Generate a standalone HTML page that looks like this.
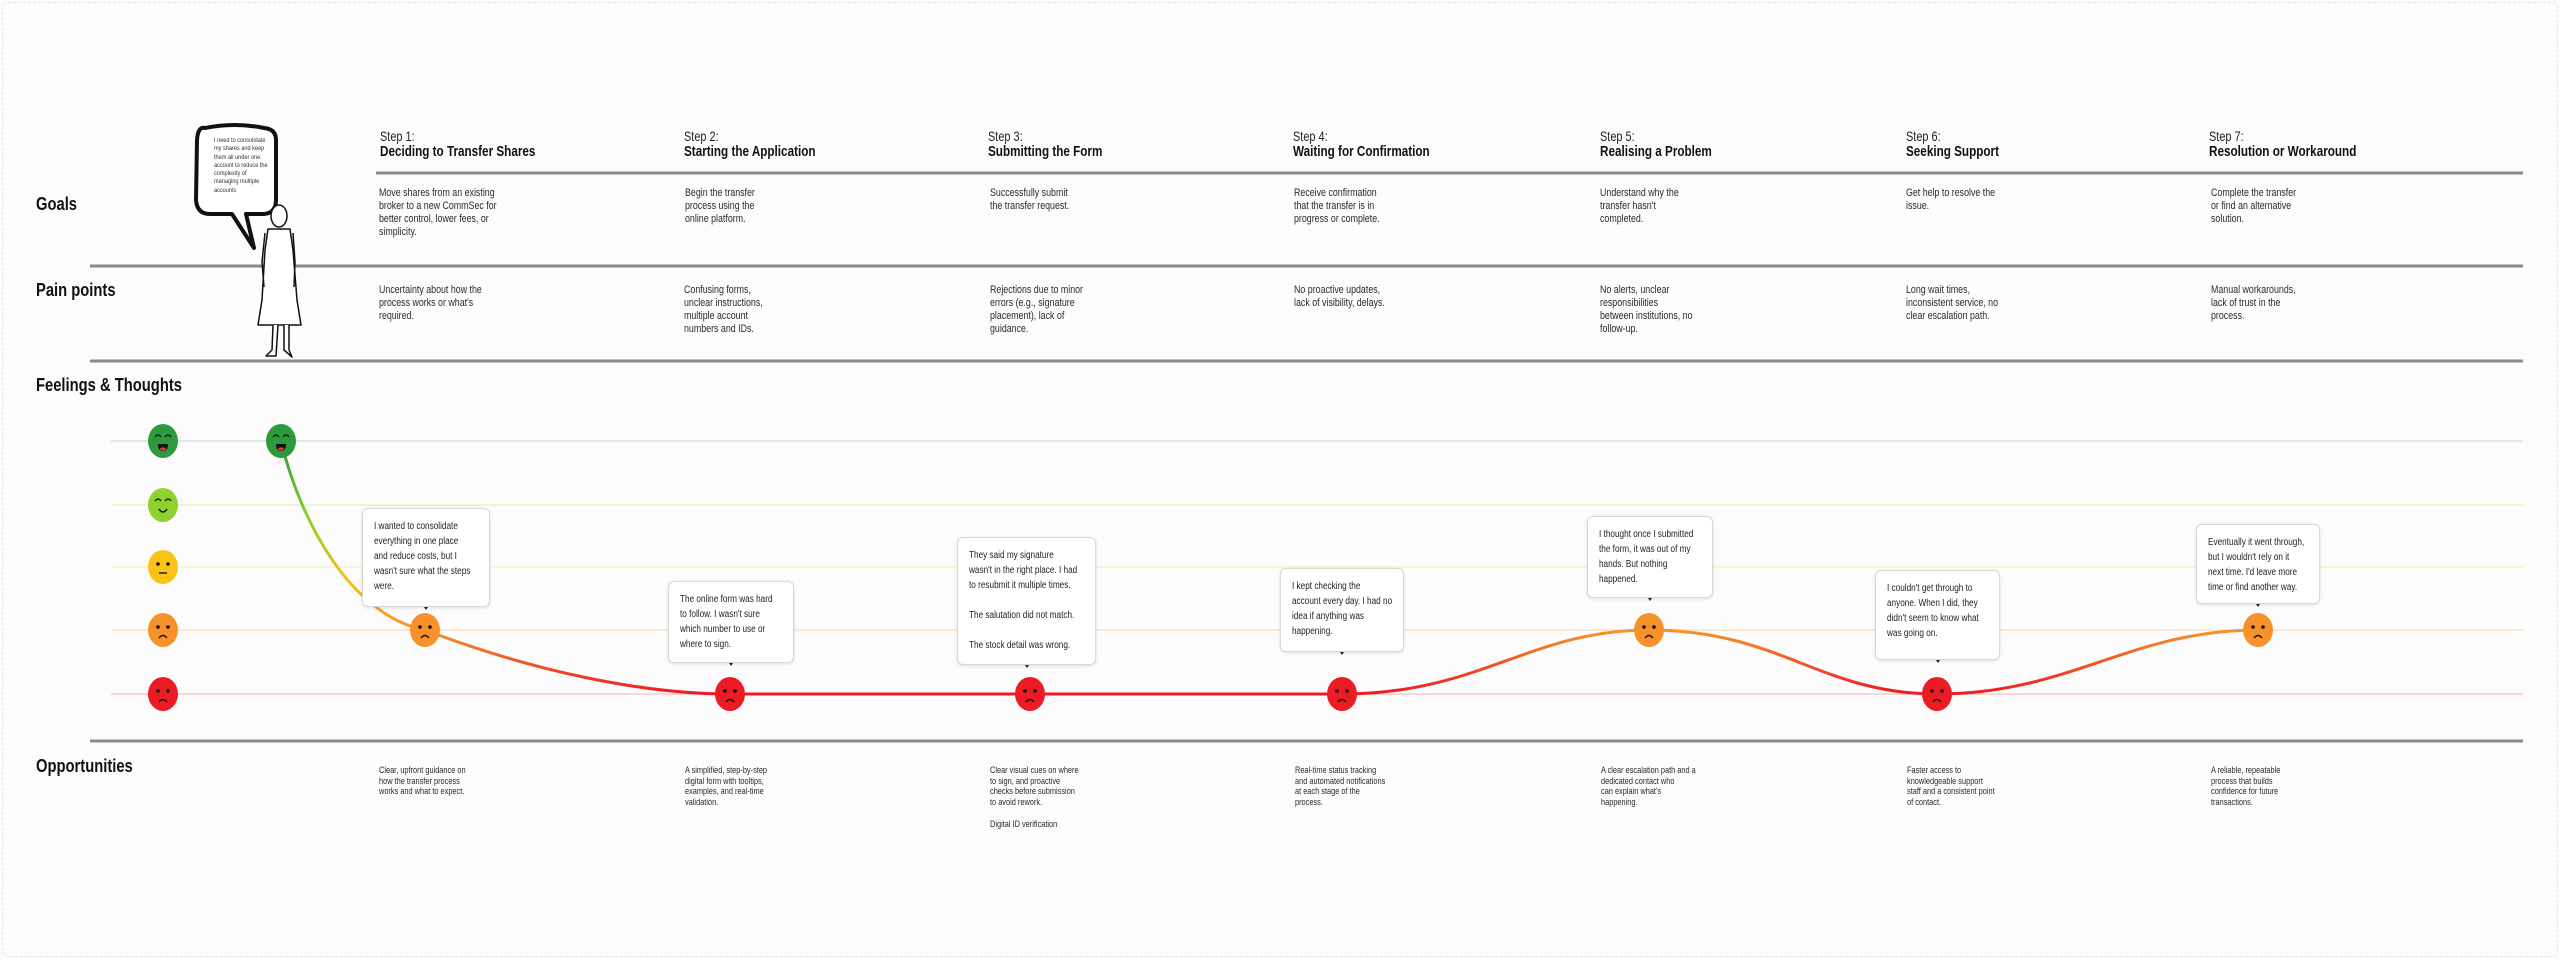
<!DOCTYPE html>
<html><head><meta charset="utf-8">
<style>
html,body{margin:0;padding:0;background:#fcfcfc;}
body{width:2560px;height:959px;position:relative;overflow:hidden;font-family:"Liberation Sans",sans-serif;color:#222;}
.a{position:absolute;white-space:nowrap;}
.c{transform:scaleX(.82);transform-origin:0 0;}
.step{font-size:14px;line-height:16px;color:#222;transform:scaleX(.78);transform-origin:0 0;}
.step b{font-size:15px;display:block;color:#111;}
.lab{font-size:18px;font-weight:bold;color:#111;}
.t{font-size:10.8px;line-height:13px;color:#2a2a2a;}
.o{font-size:9px;line-height:10.7px;color:#2a2a2a;}
.bub{background:#fff;border:1px solid #d8d8d8;border-radius:6px;box-shadow:0 1px 3px rgba(0,0,0,.12);box-sizing:border-box;padding:10px 0 0 11px;}
.bub>div{font-size:10px;line-height:15px;color:#222;white-space:nowrap;}
.bub:after{content:"";position:absolute;left:50%;bottom:-6px;margin-left:-2px;border:2px solid transparent;border-top:3px solid #222;}
</style></head><body>
<div class="a" style="left:2px;top:2px;width:2554px;height:953px;border:1px dashed #e4e4e4;border-radius:6px;"></div>

<svg class="a" style="left:0;top:0" width="2560" height="959">
<defs>
<linearGradient id="g" gradientUnits="userSpaceOnUse" x1="0" y1="441" x2="0" y2="694">
<stop offset="0" stop-color="#2e9a3e"/><stop offset="0.3" stop-color="#8fcf2e"/><stop offset="0.55" stop-color="#f2c21a"/><stop offset="0.75" stop-color="#f7922a"/><stop offset="1" stop-color="#ec1c24"/>
</linearGradient>
</defs>
<g stroke="#8a8a8a" stroke-width="3">
<line x1="376" y1="173" x2="2523" y2="173"/>
<line x1="90" y1="266" x2="2523" y2="266"/>
<line x1="90" y1="361" x2="2523" y2="361"/>
<line x1="90" y1="741" x2="2523" y2="741"/>
</g>
<g stroke-width="1.5">
<line x1="111" y1="441" x2="2523" y2="441" stroke="#cfe8cf"/>
<line x1="111" y1="505" x2="2523" y2="505" stroke="#e6f3c8"/>
<line x1="111" y1="567" x2="2523" y2="567" stroke="#fcefc8"/>
<line x1="111" y1="630" x2="2523" y2="630" stroke="#fde0c4"/>
<line x1="111" y1="694" x2="2523" y2="694" stroke="#f8c8ca"/>
</g>
<path d="M281 441 C300 520 350 615 425 630 C530 670 640 694 730 694 L1342 694 C1480 694 1530 630 1649 630 C1780 630 1820 694 1937 694 C2070 694 2130 630 2258 630" fill="none" stroke="url(#g)" stroke-width="3"/>
<g>
<g transform="translate(163,441)"><ellipse rx="15" ry="17" fill="#2e9a3e"/><path d="M-8 -4 q3 -4 6 0 M2 -4 q3 -4 6 0" stroke="#111" fill="none" stroke-width="1.3"/><path d="M-5 3 h10 q0 7 -5 7 q-5 0 -5 -7z" fill="#111"/><ellipse cx="0" cy="8" rx="3" ry="1.6" fill="#e8334a"/></g>
<g transform="translate(163,505)"><ellipse rx="15" ry="17" fill="#8fd12e"/><path d="M-8 -4 q3 -4 6 0 M2 -4 q3 -4 6 0" stroke="#111" fill="none" stroke-width="1.3"/><path d="M-4 4 q4 6 8 0" stroke="#111" fill="none" stroke-width="1.5"/></g>
<g transform="translate(163,567)"><ellipse rx="15" ry="17" fill="#f9c416"/><circle cx="-5" cy="-3" r="1.8" fill="#111"/><circle cx="5" cy="-3" r="1.8" fill="#111"/><line x1="-4" y1="6" x2="4" y2="6" stroke="#111" stroke-width="1.4"/></g>
<g transform="translate(163,630)"><ellipse rx="15" ry="17" fill="#f7922a"/><circle cx="-5" cy="-3" r="1.8" fill="#111"/><circle cx="5" cy="-3" r="1.8" fill="#111"/><path d="M-4 8 q4 -5 8 0" stroke="#111" fill="none" stroke-width="1.4"/></g>
<g transform="translate(163,694)"><ellipse rx="15" ry="17" fill="#ec1c24"/><circle cx="-5" cy="-3" r="1.8" fill="#111"/><circle cx="5" cy="-3" r="1.8" fill="#111"/><path d="M-4 8 q4 -5 8 0" stroke="#111" fill="none" stroke-width="1.4"/></g>
<g transform="translate(281,441)"><ellipse rx="15" ry="17" fill="#2e9a3e"/><path d="M-8 -4 q3 -4 6 0 M2 -4 q3 -4 6 0" stroke="#111" fill="none" stroke-width="1.3"/><path d="M-5 3 h10 q0 7 -5 7 q-5 0 -5 -7z" fill="#111"/><ellipse cx="0" cy="8" rx="3" ry="1.6" fill="#e8334a"/></g>
<g transform="translate(425,630)"><ellipse rx="15" ry="17" fill="#f7922a"/><circle cx="-5" cy="-3" r="1.8" fill="#111"/><circle cx="5" cy="-3" r="1.8" fill="#111"/><path d="M-4 8 q4 -5 8 0" stroke="#111" fill="none" stroke-width="1.4"/></g>
<g transform="translate(1649,630)"><ellipse rx="15" ry="17" fill="#f7922a"/><circle cx="-5" cy="-3" r="1.8" fill="#111"/><circle cx="5" cy="-3" r="1.8" fill="#111"/><path d="M-4 8 q4 -5 8 0" stroke="#111" fill="none" stroke-width="1.4"/></g>
<g transform="translate(2258,630)"><ellipse rx="15" ry="17" fill="#f7922a"/><circle cx="-5" cy="-3" r="1.8" fill="#111"/><circle cx="5" cy="-3" r="1.8" fill="#111"/><path d="M-4 8 q4 -5 8 0" stroke="#111" fill="none" stroke-width="1.4"/></g>
<g transform="translate(730,694)"><ellipse rx="15" ry="17" fill="#ec1c24"/><circle cx="-5" cy="-3" r="1.8" fill="#111"/><circle cx="5" cy="-3" r="1.8" fill="#111"/><path d="M-4 8 q4 -5 8 0" stroke="#111" fill="none" stroke-width="1.4"/></g>
<g transform="translate(1030,694)"><ellipse rx="15" ry="17" fill="#ec1c24"/><circle cx="-5" cy="-3" r="1.8" fill="#111"/><circle cx="5" cy="-3" r="1.8" fill="#111"/><path d="M-4 8 q4 -5 8 0" stroke="#111" fill="none" stroke-width="1.4"/></g>
<g transform="translate(1342,694)"><ellipse rx="15" ry="17" fill="#ec1c24"/><circle cx="-5" cy="-3" r="1.8" fill="#111"/><circle cx="5" cy="-3" r="1.8" fill="#111"/><path d="M-4 8 q4 -5 8 0" stroke="#111" fill="none" stroke-width="1.4"/></g>
<g transform="translate(1937,694)"><ellipse rx="15" ry="17" fill="#ec1c24"/><circle cx="-5" cy="-3" r="1.8" fill="#111"/><circle cx="5" cy="-3" r="1.8" fill="#111"/><path d="M-4 8 q4 -5 8 0" stroke="#111" fill="none" stroke-width="1.4"/></g>
</g>
<path d="M205 128 Q198 126 197 140 L196 200 Q197 214 210 214 L232 214 L254 248 L246 214 L264 214 Q276 213 276 200 L276 140 Q276 129 264 128 Q235 122 205 128Z" fill="#fff" stroke="#111" stroke-width="4" stroke-linejoin="round"/>
<g fill="#fff" stroke="#111" stroke-width="1.5" stroke-linejoin="round">
<ellipse cx="279" cy="216" rx="8" ry="11"/>
<path d="M268 229 L290 229 L293 250 L297 300 L301 325 L258 325 L262 300 L265 250Z"/>
<path d="M265 233 L262 262 L264 287 M293 233 L295 262 L294 287" fill="none"/>
<path d="M273 325 L272 350 L266 356 L276 356 L278 325 M284 325 L284 350 L292 357 L289 350 L289 325"/>
</g>
</svg>

<div class="a c" style="left:214px;top:137px;font-size:6.8px;line-height:8.3px;color:#333;">I need to consolidate<br>my shares and keep<br>them all under one<br>account to reduce the<br>complexity of<br>managing multiple<br>accounts</div>

<div class="a lab c" style="left:36px;top:194px;">Goals</div>
<div class="a lab c" style="left:36px;top:280px;">Pain points</div>
<div class="a lab c" style="left:36px;top:375px;">Feelings &amp; Thoughts</div>
<div class="a lab c" style="left:36px;top:756px;">Opportunities</div>

<div class="a step" style="left:380px;top:128px;">Step 1:<b>Deciding to Transfer Shares</b></div>
<div class="a step" style="left:684px;top:128px;">Step 2:<b>Starting the Application</b></div>
<div class="a step" style="left:988px;top:128px;">Step 3:<b>Submitting the Form</b></div>
<div class="a step" style="left:1293px;top:128px;">Step 4:<b>Waiting for Confirmation</b></div>
<div class="a step" style="left:1600px;top:128px;">Step 5:<b>Realising a Problem</b></div>
<div class="a step" style="left:1906px;top:128px;">Step 6:<b>Seeking Support</b></div>
<div class="a step" style="left:2209px;top:128px;">Step 7:<b>Resolution or Workaround</b></div>

<div class="a t c" style="left:379px;top:187px;">Move shares from an existing<br>broker to a new CommSec for<br>better control, lower fees, or<br>simplicity.</div>
<div class="a t c" style="left:685px;top:187px;">Begin the transfer<br>process using the<br>online platform.</div>
<div class="a t c" style="left:990px;top:187px;">Successfully submit<br>the transfer request.</div>
<div class="a t c" style="left:1294px;top:187px;">Receive confirmation<br>that the transfer is in<br>progress or complete.</div>
<div class="a t c" style="left:1600px;top:187px;">Understand why the<br>transfer hasn't<br>completed.</div>
<div class="a t c" style="left:1906px;top:187px;">Get help to resolve the<br>issue.</div>
<div class="a t c" style="left:2211px;top:187px;">Complete the transfer<br>or find an alternative<br>solution.</div>

<div class="a t c" style="left:379px;top:284px;">Uncertainty about how the<br>process works or what's<br>required.</div>
<div class="a t c" style="left:684px;top:284px;">Confusing forms,<br>unclear instructions,<br>multiple account<br>numbers and IDs.</div>
<div class="a t c" style="left:990px;top:284px;">Rejections due to minor<br>errors (e.g., signature<br>placement), lack of<br>guidance.</div>
<div class="a t c" style="left:1294px;top:284px;">No proactive updates,<br>lack of visibility, delays.</div>
<div class="a t c" style="left:1600px;top:284px;">No alerts, unclear<br>responsibilities<br>between institutions, no<br>follow-up.</div>
<div class="a t c" style="left:1906px;top:284px;">Long wait times,<br>inconsistent service, no<br>clear escalation path.</div>
<div class="a t c" style="left:2211px;top:284px;">Manual workarounds,<br>lack of trust in the<br>process.</div>

<div class="a bub" style="left:362px;top:508px;width:128px;height:99px;"><div class="c">I wanted to consolidate<br>everything in one place<br>and reduce costs, but I<br>wasn't sure what the steps<br>were.</div></div>
<div class="a bub" style="left:668px;top:581px;width:126px;height:82px;"><div class="c">The online form was hard<br>to follow. I wasn't sure<br>which number to use or<br>where to sign.</div></div>
<div class="a bub" style="left:957px;top:537px;width:139px;height:128px;"><div class="c">They said my signature<br>wasn't in the right place. I had<br>to resubmit it multiple times.<br><br>The salutation did not match.<br><br>The stock detail was wrong.</div></div>
<div class="a bub" style="left:1280px;top:568px;width:124px;height:84px;"><div class="c">I kept checking the<br>account every day. I had no<br>idea if anything was<br>happening.</div></div>
<div class="a bub" style="left:1587px;top:516px;width:126px;height:82px;"><div class="c">I thought once I submitted<br>the form, it was out of my<br>hands. But nothing<br>happened.</div></div>
<div class="a bub" style="left:1875px;top:570px;width:125px;height:90px;"><div class="c">I couldn't get through to<br>anyone. When I did, they<br>didn't seem to know what<br>was going on.</div></div>
<div class="a bub" style="left:2196px;top:524px;width:124px;height:80px;"><div class="c">Eventually it went through,<br>but I wouldn't rely on it<br>next time. I'd leave more<br>time or find another way.</div></div>

<div class="a o c" style="left:379px;top:765px;">Clear, upfront guidance on<br>how the transfer process<br>works and what to expect.</div>
<div class="a o c" style="left:685px;top:765px;">A simplified, step-by-step<br>digital form with tooltips,<br>examples, and real-time<br>validation.</div>
<div class="a o c" style="left:990px;top:765px;">Clear visual cues on where<br>to sign, and proactive<br>checks before submission<br>to avoid rework.<br><br>Digital ID verification</div>
<div class="a o c" style="left:1295px;top:765px;">Real-time status tracking<br>and automated notifications<br>at each stage of the<br>process.</div>
<div class="a o c" style="left:1601px;top:765px;">A clear escalation path and a<br>dedicated contact who<br>can explain what's<br>happening.</div>
<div class="a o c" style="left:1907px;top:765px;">Faster access to<br>knowledgeable support<br>staff and a consistent point<br>of contact.</div>
<div class="a o c" style="left:2211px;top:765px;">A reliable, repeatable<br>process that builds<br>confidence for future<br>transactions.</div>
</body></html>
